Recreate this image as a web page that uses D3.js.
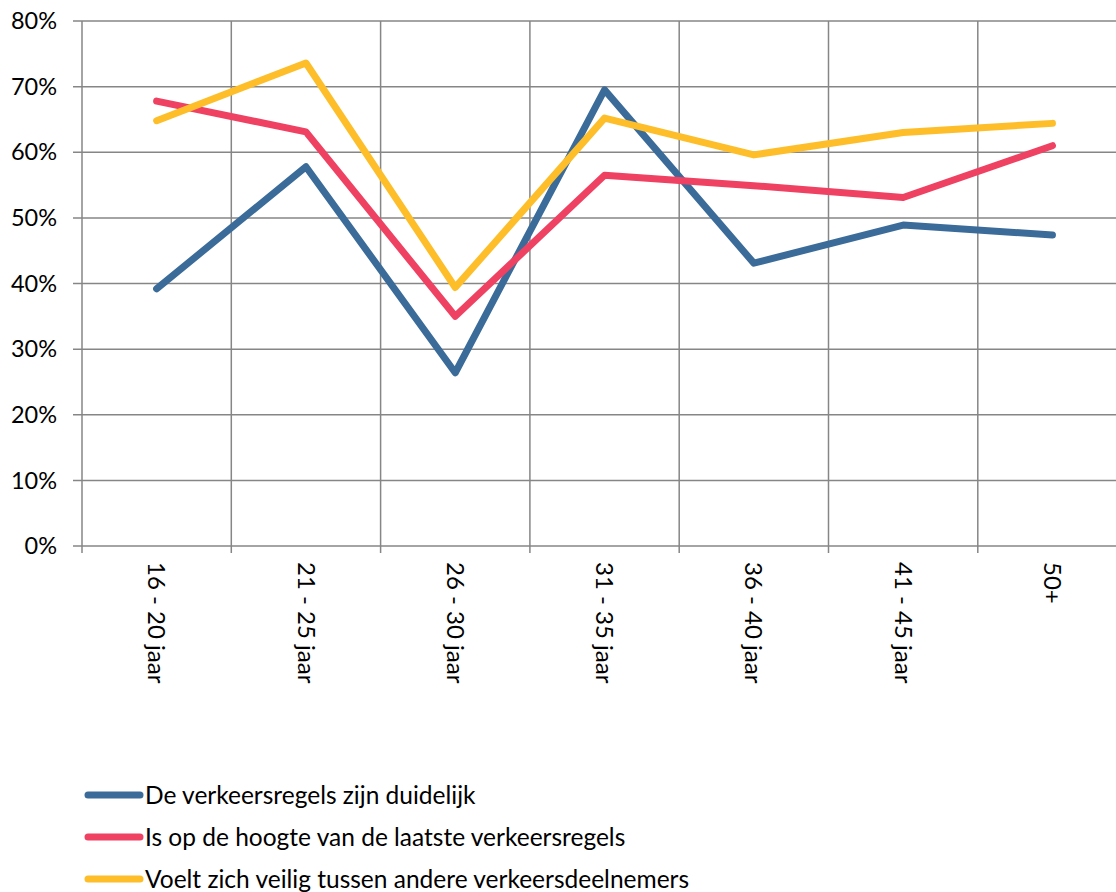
<!DOCTYPE html>
<meta charset="utf-8">
<style>
body { margin: 0; background: #fff; }
text { font-family: Lato, "Open Sans", sans-serif; fill: #000; }
.grid line { stroke: #868686; stroke-width: 1.5px; }
.line { fill: none; stroke-width: 7px; stroke-linecap: round; stroke-linejoin: round; }
</style>
<body>
<script src="https://d3js.org/d3.v7.min.js"></script>
<script>

// categories and series
var categories = ["16 - 20 jaar", "21 - 25 jaar", "26 - 30 jaar", "31 - 35 jaar", "36 - 40 jaar", "41 - 45 jaar", "50+"];
var duidelijk = [39.2, 57.8, 26.4, 69.5, 43.1, 48.9, 47.4];
var opHoogte  = [67.8, 63.1, 35.0, 56.5, 54.9, 53.1, 61.0];
var veilig    = [64.8, 73.6, 39.4, 65.2, 59.6, 63.0, 64.4];
var yTicks = [0, 10, 20, 30, 40, 50, 60, 70, 80];

var series = [
  {name: "De verkeersregels zijn duidelijk", values: duidelijk, color: "#3A6B99"},
  {name: "Is op de hoogte van de laatste verkeersregels", values: opHoogte, color: "#EF4162"},
  {name: "Voelt zich veilig tussen andere verkeersdeelnemers", values: veilig, color: "#FDBE2A"}
];

var W = 1116, H = 892;
var plotLeft = 82, plotTop = 21, plotBottom = 546;
var band = 149.3;

var svg = d3.select("body").append("svg")
    .attr("width", W)
    .attr("height", H);

var x = d3.scaleBand()
    .domain(categories)
    .range([plotLeft, plotLeft + band * categories.length]);
var y = d3.scaleLinear().domain([0, 80]).range([plotBottom, plotTop]);

// horizontal grid lines
var grid = svg.append("g").attr("class", "grid");
grid.selectAll(".h").data(yTicks).enter().append("line")
    .attr("x1", plotLeft - 9).attr("x2", W)
    .attr("y1", function(d) { return y(d); })
    .attr("y2", function(d) { return y(d); });

// vertical grid lines at category boundaries
var bounds = categories.map(function(c) { return x(c); });
grid.selectAll(".v").data(bounds).enter().append("line")
    .attr("x1", function(d) { return d; })
    .attr("x2", function(d) { return d; })
    .attr("y1", plotTop)
    .attr("y2", plotBottom + 7);

// y labels
svg.selectAll(".ylab").data(yTicks).enter().append("text")
    .attr("x", 57)
    .attr("y", function(d) { return y(d); })
    .attr("dy", "0.35em")
    .attr("text-anchor", "end")
    .style("font-size", "23.5px")
    .text(function(d) { return d + "%"; });

// x labels, rotated
svg.selectAll(".xlab").data(categories).enter().append("text")
    .attr("transform", function(d) {
      return "translate(" + (x(d) + x.bandwidth() / 2) + "," + 562 + ") rotate(90)";
    })
    .attr("dy", "0.35em")
    .style("font-size", "24px")
    .text(function(d) { return d; });

// lines
var line = d3.line()
    .x(function(d, i) { return x(categories[i]) + x.bandwidth() / 2; })
    .y(function(d) { return y(d); });

svg.selectAll(".line").data(series).enter().append("path")
    .attr("class", "line")
    .attr("stroke", function(d) { return d.color; })
    .attr("d", function(d) { return line(d.values); });

// legend
var legend = svg.selectAll(".leg").data(series).enter().append("g")
    .attr("transform", function(d, i) { return "translate(0," + (795 + i * 42) + ")"; });
legend.append("line")
    .attr("x1", 88).attr("x2", 140)
    .attr("y1", 0).attr("y2", 0)
    .attr("stroke", function(d) { return d.color; })
    .attr("stroke-width", 7)
    .attr("stroke-linecap", "round");
legend.append("text")
    .attr("x", 145)
    .attr("dy", "0.35em")
    .style("font-size", "24.5px")
    .text(function(d) { return d.name; });

</script>
</body>
